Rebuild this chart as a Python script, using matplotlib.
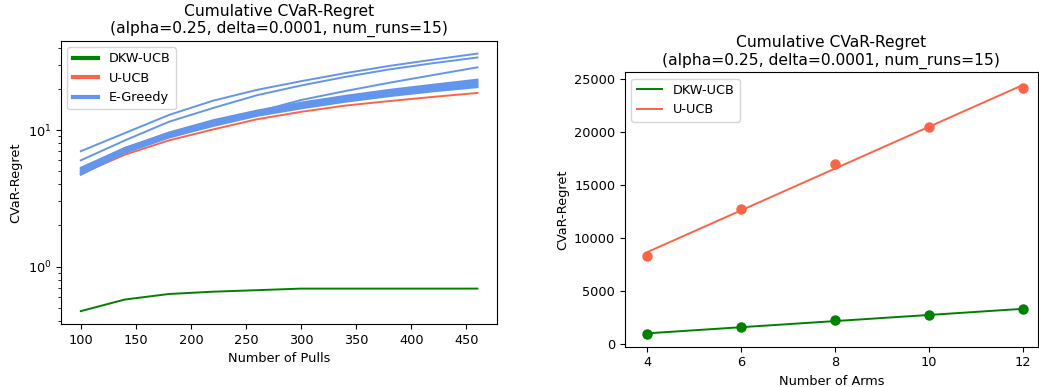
import numpy as np
import matplotlib
matplotlib.use("Agg")
import matplotlib.pyplot as plt

# left panel: cumulative CVaR-regret vs number of pulls (log scale)
pulls = [100, 140, 180, 220, 260, 300, 340, 380, 420, 460]
dkw_pulls = [0.472, 0.574, 0.63, 0.655, 0.672, 0.69, 0.69, 0.69, 0.69, 0.69]
uucb_pulls = [4.78, 6.6, 8.4, 10.1, 12.0, 13.6, 15.1, 16.3, 17.5, 18.7]
egreedy_runs = [
    [7.0, 9.5, 12.9, 16.4, 19.7, 22.8, 26.1, 29.5, 32.8, 36.3],
    [6.0, 8.4, 11.5, 14.5, 18.0, 21.2, 24.5, 27.8, 30.9, 34.0],
    [5.3, 7.4, 9.4, 11.3, 13.6, 16.6, 19.3, 22.2, 25.3, 28.8],
    [5.2, 7.4, 9.6, 11.8, 13.9, 15.9, 17.8, 19.7, 21.5, 23.4],
    [5.1, 7.3, 9.5, 11.6, 13.7, 15.6, 17.5, 19.3, 21.1, 22.9],
    [5.0, 7.2, 9.3, 11.4, 13.5, 15.4, 17.2, 19.0, 20.7, 22.4],
    [4.95, 7.1, 9.2, 11.2, 13.3, 15.1, 16.9, 18.6, 20.3, 21.9],
    [4.9, 7.0, 9.1, 11.1, 13.1, 14.9, 16.7, 18.4, 20.0, 21.5],
    [4.8, 6.9, 9.0, 10.9, 12.9, 14.7, 16.4, 18.0, 19.6, 21.0],
    [4.7, 6.8, 8.8, 10.7, 12.7, 14.4, 16.1, 17.7, 19.2, 20.6],
]

# right panel: final CVaR-regret vs number of arms
arms = [4, 6, 8, 10, 12]
dkw_arms = [944, 1577, 2210, 2682, 3277]
uucb_arms = [8311, 12722, 17000, 20466, 24122]

title = "Cumulative CVaR-Regret\n(alpha=0.25, delta=0.0001, num_runs=15)"


def main():
    plt.rcParams['font.size'] = 9.3
    plt.rcParams['axes.titlesize'] = 11.2
    plt.rcParams['axes.labelsize'] = 9.3
    plt.rcParams['legend.fontsize'] = 9.3
    plt.rcParams['lines.linewidth'] = 1.4
    plt.rcParams['axes.titlepad'] = 5.6
    plt.rcParams['axes.labelpad'] = 3.7
    fig = plt.figure(figsize=(10.39, 3.87), dpi=100)

    ax1 = fig.add_axes([0.0587, 0.1628, 0.4199, 0.732])
    ax1.plot(pulls, dkw_pulls, color='green', label='DKW-UCB')
    ax1.plot(pulls, uucb_pulls, color='tomato', label='U-UCB')
    for i, run in enumerate(egreedy_runs):
        ax1.plot(pulls, run, color='cornflowerblue',
                 label='E-Greedy' if i == 0 else None)
    ax1.set_yscale('log')
    ax1.set_title(title)
    ax1.set_xlabel('Number of Pulls')
    ax1.set_ylabel('CVaR-Regret')
    leg = ax1.legend(loc='upper left')
    for line in leg.get_lines():
        line.set_linewidth(3)

    ax2 = fig.add_axes([0.6015, 0.1041, 0.3972, 0.709])
    for vals, color, name in [(dkw_arms, 'green', 'DKW-UCB'),
                              (uucb_arms, 'tomato', 'U-UCB')]:
        coef = np.polyfit(arms, vals, 1)
        ax2.plot(arms, np.polyval(coef, arms), color=color, label=name)
        ax2.plot(arms, vals, 'o', color=color, markersize=6.5)
    ax2.set_xlim(3.52, 12.32)
    ax2.set_ylim(-280, 25600)
    ax2.set_xticks(arms)
    ax2.set_title(title)
    ax2.set_xlabel('Number of Arms')
    ax2.set_ylabel('CVaR-Regret')
    ax2.legend(loc='upper left')

    fig.savefig('out.png', dpi=100)


if __name__ == "__main__":
    main()
